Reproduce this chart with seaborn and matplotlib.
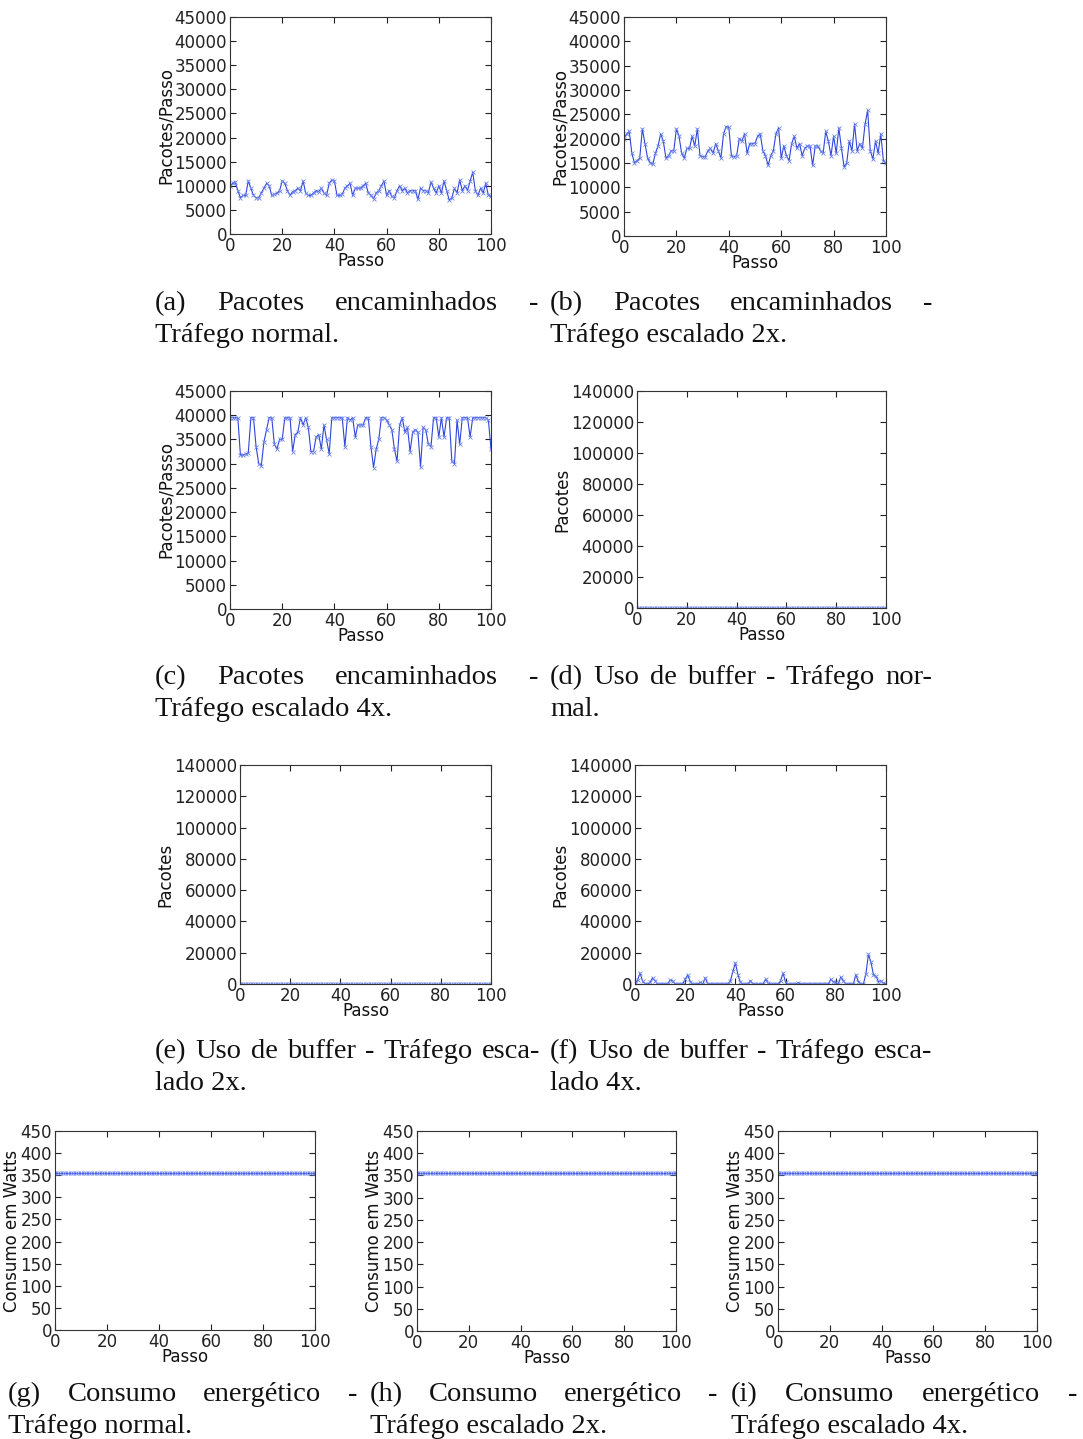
import numpy as np
import pandas as pd
import matplotlib
matplotlib.use("Agg")
import matplotlib.pyplot as plt
import seaborn as sns

# ---------------- data ----------------
passo = list(range(101))

pacotes_normal = [10000, 10500, 10800, 9000, 7500, 8000, 8000, 11000, 9500, 8000,
                  7500, 7500, 8500, 9500, 10500, 10000, 8000, 8200, 8500, 9000,
                  11000, 10500, 9000, 8000, 8800, 9000, 9500, 9000, 11000, 8500,
                  8000, 8000, 8500, 9000, 8800, 9500, 8500, 8000, 10500, 11200,
                  11000, 8000, 8000, 8200, 9500, 10000, 10500, 8000, 9500, 9500,
                  9500, 10000, 10500, 8500, 8000, 7300, 8500, 9000, 10000, 11000,
                  8000, 9000, 7800, 7500, 9000, 10000, 9000, 9500, 8500, 9000,
                  9000, 9000, 7200, 9500, 9000, 9000, 8500, 10800, 9500, 8500,
                  10000, 8500, 11000, 9000, 7000, 7500, 9500, 8500, 11200, 9000,
                  10000, 9000, 11000, 12800, 9000, 8000, 9500, 8500, 10500, 8000,
                  7800]

pacotes_2x = [20000, 21000, 21500, 17000, 15000, 15500, 16000, 22000, 19000, 16000,
              15000, 14800, 17000, 18500, 21000, 19500, 16000, 16500, 17500, 17500,
              22000, 20500, 17000, 16000, 18000, 18000, 20500, 18500, 22000, 16500,
              16300, 16300, 17500, 18000, 17000, 19000, 17500, 16000, 21000, 22500,
              22300, 16500, 16300, 16500, 20000, 19500, 21000, 17000, 19000, 19000,
              19000, 20500, 21000, 17500, 16500, 14500, 16500, 17500, 21000, 22200,
              16000, 18500, 16500, 15500, 19000, 20500, 18000, 19000, 16500, 18000,
              18500, 18500, 14500, 18500, 18500, 17500, 17000, 21500, 19500, 16500,
              20500, 17000, 22200, 18000, 14200, 15000, 19500, 17500, 23000, 17500,
              19000, 18000, 23000, 25800, 17500, 15800, 19500, 17000, 21000, 15500,
              15000]

pacotes_4x = [39500, 39500, 39500, 39500, 31700, 31800, 32000, 32200, 39500, 39500,
              33500, 30000, 29600, 34500, 37000, 39500, 39500, 34000, 33000, 35000,
              35000, 39500, 39500, 39500, 32500, 36000, 36500, 39500, 38000, 39500,
              37500, 32500, 32500, 35500, 36000, 33000, 38000, 35000, 32000, 39500,
              39500, 39500, 39500, 39500, 33500, 39500, 39000, 39500, 35500, 38000,
              38000, 38000, 39500, 39500, 33500, 29200, 33000, 35000, 39500, 39500,
              39000, 38000, 37000, 33000, 30500, 38000, 39500, 36500, 37500, 32500,
              36500, 37000, 36500, 29300, 37500, 37000, 34000, 33500, 39500, 39500,
              35500, 39500, 35500, 39500, 39500, 30500, 30000, 39000, 34000, 39500,
              39500, 39500, 35500, 39500, 39500, 39500, 39500, 39500, 39500, 39000,
              33000]

buffer_normal = [0, 0, 0, 0, 0, 0, 0, 0, 0, 0, 0, 0, 0, 0, 0, 0, 0, 0, 0, 0,
                 0, 0, 0, 0, 0, 0, 0, 0, 0, 0, 0, 0, 0, 0, 0, 0, 0, 0, 0, 0,
                 0, 0, 0, 0, 0, 0, 0, 0, 0, 0, 0, 0, 0, 0, 0, 0, 0, 0, 0, 0,
                 0, 0, 0, 0, 0, 0, 0, 0, 0, 0, 0, 0, 0, 0, 0, 0, 0, 0, 0, 0,
                 0, 0, 0, 0, 0, 0, 0, 0, 0, 0, 0, 0, 0, 0, 0, 0, 0, 0, 0, 0, 0]

buffer_2x = [0, 0, 0, 0, 0, 0, 0, 0, 0, 0, 0, 0, 0, 0, 0, 0, 0, 0, 0, 0,
             0, 0, 0, 0, 0, 0, 0, 0, 0, 0, 0, 0, 0, 0, 0, 0, 0, 0, 0, 0,
             0, 0, 0, 0, 0, 0, 0, 0, 0, 0, 0, 0, 0, 0, 0, 0, 0, 0, 0, 0,
             0, 0, 0, 0, 0, 0, 0, 0, 0, 0, 0, 0, 0, 0, 0, 0, 0, 0, 0, 0,
             0, 0, 0, 0, 0, 0, 0, 0, 0, 0, 0, 0, 0, 0, 0, 0, 0, 0, 0, 0, 0]

buffer_4x = [0, 2500, 7000, 2000, 0, 0, 1000, 4000, 2000, 0,
             0, 0, 0, 0, 2500, 2000, 0, 0, 0, 0,
             3000, 5800, 1500, 0, 0, 0, 1000, 0, 4000, 0,
             0, 0, 0, 0, 0, 0, 0, 0, 2000, 8000,
             13500, 6000, 1000, 0, 0, 0, 2000, 0, 0, 0,
             0, 0, 3000, 500, 0, 0, 0, 0, 2000, 7000,
             1000, 0, 0, 0, 0, 800, 0, 0, 0, 0,
             0, 0, 0, 0, 0, 0, 0, 0, 3000, 1500,
             1000, 0, 4500, 2000, 0, 0, 0, 0, 6000, 1500,
             0, 0, 6500, 19000, 14000, 6000, 5000, 1500, 2000, 500,
             0]

consumo_normal = [356] * 101
consumo_2x = [356] * 101
consumo_4x = [356] * 101

ylabels = ["Pacotes/Passo", "Pacotes/Passo", "Pacotes/Passo",
           "Pacotes", "Pacotes", "Pacotes",
           "Consumo em Watts", "Consumo em Watts", "Consumo em Watts"]

captions = [
    (["(a)", "Pacotes", "encaminhados", "-"], "Tráfego normal."),
    (["(b)", "Pacotes", "encaminhados", "-"], "Tráfego escalado 2x."),
    (["(c)", "Pacotes", "encaminhados", "-"], "Tráfego escalado 4x."),
    (["(d)", "Uso", "de", "buffer", "-", "Tráfego", "nor-"], "mal."),
    (["(e)", "Uso", "de", "buffer", "-", "Tráfego", "esca-"], "lado 2x."),
    (["(f)", "Uso", "de", "buffer", "-", "Tráfego", "esca-"], "lado 4x."),
    (["(g)", "Consumo", "energético", "-"], "Tráfego normal."),
    (["(h)", "Consumo", "energético", "-"], "Tráfego escalado 2x."),
    (["(i)", "Consumo", "energético", "-"], "Tráfego escalado 4x."),
]

series = [pacotes_normal, pacotes_2x, pacotes_4x,
          buffer_normal, buffer_2x, buffer_4x,
          consumo_normal, consumo_2x, consumo_4x]

# ---------------- layout (pixels) ----------------
W, H = 1083, 1439
boxes = [(230, 491, 17, 234), (624, 886, 17, 236),
         (230, 491, 391, 609), (637, 886, 391, 608),
         (240, 491, 765, 984), (635, 886, 765, 984),
         (55, 315, 1131, 1330), (417, 676, 1131, 1331), (778, 1037, 1131, 1331)]
cap_boxes = [(155, 538, 310), (550, 932, 310),
             (155, 538, 684), (550, 932, 684),
             (155, 540, 1058), (550, 932, 1058),
             (8, 357, 1401), (370, 717, 1401), (731, 1077, 1401)]
line_gap = 32

sns.set_style("ticks")
plt.rcParams.update({
    "font.family": ["DejaVu Sans"],
    "font.size": 12,
    "axes.labelsize": 12,
    "xtick.labelsize": 12,
    "ytick.labelsize": 12,
    "xtick.direction": "in",
    "ytick.direction": "in",
    "xtick.major.size": 4,
    "ytick.major.size": 4,
    "xtick.major.pad": 2,
    "ytick.major.pad": 2,
    "axes.edgecolor": "#333333",
    "axes.linewidth": 0.8,
    "xtick.color": "#222222",
    "ytick.color": "#222222",
    "text.color": "#111111",
    "axes.labelcolor": "#111111",
})

fig = plt.figure(figsize=(W / 100, H / 100), dpi=100)
fig.patch.set_facecolor("white")

line_color = "#2f45dc"

for i, (vals, box) in enumerate(zip(series, boxes)):
    l, r, t, b = box
    ax = fig.add_axes([l / W, 1 - b / H, (r - l) / W, (b - t) / H])
    df = pd.DataFrame({"Passo": passo, "v": vals})
    sns.lineplot(data=df, x="Passo", y="v", ax=ax, color=line_color,
                 linewidth=0.8, marker="x", markersize=3.2,
                 markeredgewidth=0.6, markeredgecolor="#6f86ee")
    ax.set_xlim(0, 100)
    ax.set_xticks([0, 20, 40, 60, 80, 100])
    if i < 3:
        ax.set_ylim(0, 45000)
        ax.set_yticks(list(range(0, 45001, 5000)))
    elif i < 6:
        ax.set_ylim(0, 140000)
        ax.set_yticks(list(range(0, 140001, 20000)))
    else:
        ax.set_ylim(0, 450)
        ax.set_yticks(list(range(0, 451, 50)))
    ax.tick_params(top=True, right=True)
    ax.set_xlabel("Passo", labelpad=-2)
    ax.set_ylabel(ylabels[i], labelpad=0)
    for s in ax.spines.values():
        s.set_visible(True)

# ---------------- captions ----------------
cap_font = dict(family=["Liberation Serif", "DejaVu Serif"], fontsize=20.5, color="#111111")
renderer = fig.canvas.get_renderer()
for (words, second), (x0, x1, y) in zip(captions, cap_boxes):
    texts = [fig.text(0, 0, w, ha="left", va="baseline", **cap_font) for w in words]
    widths = [tx.get_window_extent(renderer).width for tx in texts]
    gap = (x1 - x0 - sum(widths)) / (len(words) - 1)
    x = x0
    for tx, w in zip(texts, widths):
        tx.set_position((x / W, 1 - y / H))
        x += w + gap
    fig.text(x0 / W, 1 - (y + line_gap) / H, second, ha="left", va="baseline", **cap_font)

fig.savefig("out.png", dpi=100, facecolor="white")
